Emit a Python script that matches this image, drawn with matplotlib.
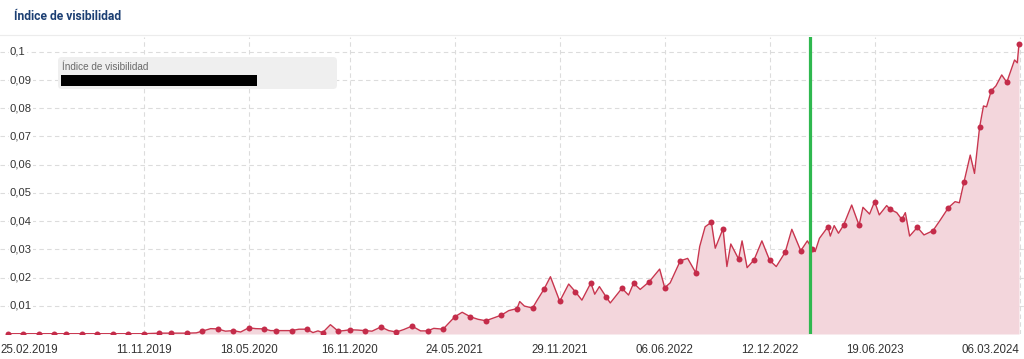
import numpy as np
import pandas as pd
import matplotlib
matplotlib.use("Agg")
import matplotlib.pyplot as plt
from matplotlib.patches import FancyBboxPatch, Rectangle
from matplotlib.lines import Line2D
from matplotlib.transforms import IdentityTransform

# --- data (visibility index, weekly; weeks counted from the first value) ---
start_date = pd.Timestamp("2019-03-11")

# weeks that carry a marker dot, and their values
dot_weeks = [0, 4, 8, 12, 15, 19, 23, 27, 31, 35, 39, 42, 46,
             50, 54, 58, 62, 66, 69, 73, 77, 81, 85,
             88, 92, 96, 100, 104, 108, 112, 115, 119, 123,
             127, 131, 135, 138, 142, 146, 150, 154, 158, 161,
             165, 169, 173, 177, 181, 184, 188, 192, 196, 200,
             204, 207, 211, 215, 219, 223, 227, 230, 234, 238,
             242, 246, 250, 253, 257, 260.14]
dot_vals = [0.0001, 0.0001, 0.0001, 0.0001, 0.0001, 0.0001, 0.0001, 0.0001, 0.0001, 0.0001, 0.0003, 0.0003, 0.0003,
            0.0010, 0.0018, 0.0012, 0.0022, 0.0018, 0.0012, 0.0012, 0.0017, 0.0005, 0.0010,
            0.0015, 0.0012, 0.0025, 0.0007, 0.0028, 0.0011, 0.0017, 0.0061, 0.0061, 0.0047,
            0.0067, 0.0090, 0.0092, 0.0160, 0.0116, 0.0150, 0.0181, 0.0130, 0.0162, 0.0180,
            0.0185, 0.0164, 0.0259, 0.0217, 0.0396, 0.0373, 0.0266, 0.0263, 0.0261, 0.0290,
            0.0295, 0.0300, 0.0380, 0.0385, 0.0385, 0.0469, 0.0442, 0.0406, 0.0378, 0.0366,
            0.0448, 0.0539, 0.0732, 0.0862, 0.0892, 0.1028]

# values in between the dots (no marker)
mid_weeks = [48.5, 52.2, 56, 59.9, 63.8, 67.6, 71, 74.9, 78.5, 79.8, 83, 86.5, 90, 93.7, 98, 101.9,
             106.2, 109.6, 113, 116.9, 121, 125, 128.9, 131.7, 132.9, 136.2, 139.6, 144.3, 147.7,
             151, 152.2, 155, 159.7, 162.7, 167.7, 170.4, 174.9, 178, 179.4, 182, 185, 186, 188.9,
             190.2, 194, 197.7, 201.7, 205.7, 207.7, 208.8, 211.6, 212.6, 213.7, 217.1, 220, 221.7,
             224.2, 226.1, 228.7, 230.9, 232, 235.7, 239.9, 243.7, 244.8, 247.6, 248.7, 251, 251.8,
             254.2, 255.7, 259, 259.7]
mid_vals = [0.0004, 0.0019, 0.0010, 0.0007, 0.0019, 0.0012, 0.0012, 0.0017, 0.0005, 0.0011, 0.0033, 0.0012, 0.0014, 0.0010, 0.0012, 0.0016,
            0.0011, 0.0020, 0.0032, 0.0077, 0.0052, 0.0057, 0.0083, 0.0115, 0.0099, 0.0120, 0.0203, 0.0177, 0.0120,
            0.0141, 0.0168, 0.0110, 0.0138, 0.0158, 0.0230, 0.0181, 0.0268, 0.0310, 0.0380, 0.0304, 0.0239, 0.0319, 0.0330,
            0.0235, 0.0330, 0.0239, 0.0371, 0.0330, 0.0292, 0.0339, 0.0347, 0.0384, 0.0357, 0.0457, 0.0449, 0.0425,
            0.0422, 0.0455, 0.0430, 0.0430, 0.0347, 0.0351, 0.0404, 0.0469, 0.0465, 0.0634, 0.0569, 0.0808, 0.0805,
            0.0879, 0.0918, 0.0971, 0.0961]

tick_dates = ["2019-02-25", "2019-11-11", "2020-05-18", "2020-11-16", "2021-05-24",
              "2021-11-29", "2022-06-06", "2022-12-12", "2023-06-19", "2024-03-06"]
y_ticks = [0.01, 0.02, 0.03, 0.04, 0.05, 0.06, 0.07, 0.08, 0.09, 0.1]
event_date = "2023-02-22"

title = "Índice de visibilidad"
series_name = "Índice de visibilidad"

# --- build the line ---
df = pd.DataFrame({"week": dot_weeks + mid_weeks, "val": dot_vals + mid_vals}).sort_values("week")
df["date"] = start_date + pd.to_timedelta(df["week"] * 7, unit="D")
dot_dates = start_date + pd.to_timedelta(np.array(dot_weeks) * 7, unit="D")

W, H = 1024, 359
fig = plt.figure(figsize=(W / 100, H / 100), dpi=100)
fig.patch.set_facecolor("white")

ax = fig.add_axes([0, (H - 334) / H, 1, (334 - 37) / H])
ax.set_facecolor("white")

line_col = "#c8364f"
ax.fill_between(df["date"], df["val"], 0, color="#f3d6dc", lw=0, zorder=2)
ax.plot(df["date"], df["val"], color=line_col, lw=1.0, zorder=3)
ax.plot(dot_dates, dot_vals, "o", color="#c42c4a", ms=4.3, mew=0, zorder=4)

ax.axvline(pd.Timestamp(event_date), color="#2fb84f", lw=2.3, zorder=5)

ax.set_xlim(pd.Timestamp(tick_dates[0]), start_date + pd.Timedelta(days=1830))
ax.set_ylim(0, (334 - 37) / 2822)

# grid
grid_kw = dict(color="#dcdcdc", lw=0.8, dashes=(4, 3), zorder=1)
for v in y_ticks:
    ax.axhline(v, **grid_kw)
for d in tick_dates[1:]:
    ax.axvline(pd.Timestamp(d), **grid_kw)

for s in ax.spines.values():
    s.set_visible(False)
ax.set_yticks([])
ax.set_xticks([pd.Timestamp(d) for d in tick_dates])
ax.set_xticklabels([pd.Timestamp(d).strftime("%d.%m.%Y") for d in tick_dates],
                   fontsize=8.3, color="#333333", family="Liberation Sans")
ax.tick_params(axis="x", length=0, pad=7.5)
xl = ax.get_xticklabels()
xl[0].set_ha("left")
xl[-1].set_ha("right")

# y labels drawn inside the plot
for v in y_ticks:
    ax.text(10 / W, v, f"{v:g}".replace(".", ","), transform=ax.get_yaxis_transform(),
            ha="left", va="center", fontsize=8.1, color="#333333", family="Liberation Sans",
            zorder=6, bbox=dict(fc="white", ec="none", pad=0.6))

# header
fig.text(14 / W, 1 - 17 / H, title, fontsize=8.7, fontweight="bold", color="#1c3f73",
         family="Roboto", va="center", ha="left")
fig.add_artist(Line2D([0, 1], [1 - 35 / H, 1 - 35 / H], transform=fig.transFigure,
                      color="#ececec", lw=0.8))

# legend box (pixel coordinates)
px = IdentityTransform()
fig.add_artist(FancyBboxPatch((61, H - 86), 273, 26, boxstyle="round,pad=3,rounding_size=4",
                              transform=px, fc="#efefef", ec="none", zorder=7))
fig.text(62 / W, 1 - 66.5 / H, series_name, fontsize=7.2, color="#6a6a6a",
         family="Liberation Sans", va="center", ha="left", zorder=8)
fig.add_artist(Rectangle((61, H - 86), 196, 11, transform=px, fc="black", ec="none", zorder=8))

fig.savefig("out.png", dpi=100, facecolor="white")
